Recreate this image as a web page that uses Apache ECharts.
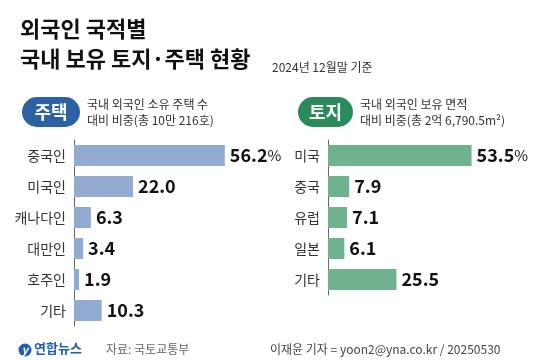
<!DOCTYPE html>
<html><head><meta charset="utf-8">
<script src="https://cdn.jsdelivr.net/npm/echarts@6/dist/echarts.min.js"></script>
<style>html,body{margin:0;padding:0;background:#fff}#c{width:537px;height:360px}</style>
</head><body><div id="c"></div>
<script>
const houseCats = ['중국인','미국인','캐나다인','대만인','호주인','기타'];
const houseVals = [56.2, 22.0, 6.3, 3.4, 1.9, 10.3];
const landCats = ['미국','중국','유럽','일본','기타'];
const landVals = [53.5, 7.9, 7.1, 6.1, 25.5];

const F = '"Noto Sans CJK KR","Noto Sans",sans-serif';
const chart = echarts.init(document.getElementById('c'));

function labelFmt(p){
  const v = p.value.toFixed(1);
  return p.dataIndex === 0 ? '{v|' + v + '}{p|%}' : '{v|' + v + '}';
}
const labelRich = {
  v:{fontFamily:F,fontSize:18,fontWeight:'bold',color:'#111'},
  p:{fontFamily:F,fontSize:15,color:'#111'}
};

chart.setOption({
  animation:false,
  grid:[
    {left:74,top:140,width:161,height:186},
    {left:328,top:140,width:161,height:155}
  ],
  xAxis:[
    {gridIndex:0,type:'value',min:0,max:60,show:false},
    {gridIndex:1,type:'value',min:0,max:60,show:false}
  ],
  yAxis:[
    {gridIndex:0,type:'category',data:houseCats,inverse:true,
     axisLine:{lineStyle:{color:'#666',width:1}},axisTick:{show:false},
     axisLabel:{fontFamily:F,fontSize:14,color:'#333',margin:8}},
    {gridIndex:1,type:'category',data:landCats,inverse:true,
     axisLine:{lineStyle:{color:'#666',width:1}},axisTick:{show:false},
     axisLabel:{fontFamily:F,fontSize:14,color:'#333',margin:8}}
  ],
  series:[
    {type:'bar',xAxisIndex:0,yAxisIndex:0,data:houseVals,barWidth:21,
     itemStyle:{color:'#93abd0'},
     label:{show:true,position:'right',distance:5,formatter:labelFmt,rich:labelRich}},
    {type:'bar',xAxisIndex:1,yAxisIndex:1,data:landVals,barWidth:21,
     itemStyle:{color:'#6eb28f'},
     label:{show:true,position:'right',distance:5,formatter:labelFmt,rich:labelRich}}
  ],
  graphic:[
    {type:'text',left:20,top:18,style:{text:'외국인 국적별',font:'bold 22px '+F,fill:'#111'}},
    {type:'text',left:20,top:48,style:{text:'국내 보유 토지·주택 현황',font:'bold 22px '+F,fill:'#111'}},
    {type:'text',left:272,top:61,style:{text:'2024년 12월말 기준',font:'12px '+F,fill:'#333'}},
    {type:'rect',shape:{x:22,y:97,width:58,height:30,r:15},style:{fill:'#2c62a4'}},
    {type:'text',x:51,y:112,style:{text:'주택',font:'bold 18px '+F,fill:'#fff',align:'center',verticalAlign:'middle'}},
    {type:'text',left:87,top:98,style:{text:'국내 외국인 소유 주택 수',font:'12px '+F,fill:'#333'}},
    {type:'text',left:87,top:114,style:{text:'대비 비중(총 10만 216호)',font:'12px '+F,fill:'#333'}},
    {type:'rect',shape:{x:298,y:97,width:55,height:30,r:15},style:{fill:'#2a8a5c'}},
    {type:'text',x:325.5,y:112,style:{text:'토지',font:'bold 18px '+F,fill:'#fff',align:'center',verticalAlign:'middle'}},
    {type:'text',left:360,top:98,style:{text:'국내 외국인 보유 면적',font:'12px '+F,fill:'#333'}},
    {type:'text',left:360,top:114,style:{text:'대비 비중(총 2억 6,790.5m²)',font:'12px '+F,fill:'#333'}},
    {type:'circle',shape:{cx:25,cy:350,r:6.5},style:{fill:'#1f5fb5'}},
    {type:'text',x:25,y:350,style:{text:'y',font:'italic bold 11px '+F,fill:'#fff',align:'center',verticalAlign:'middle'}},
    {type:'text',left:34,top:342,style:{text:'연합뉴스',font:'bold 13px '+F,fill:'#1f5fb5'}},
    {type:'text',left:106,top:343,style:{text:'자료: 국토교통부',font:'12px '+F,fill:'#666'}},
    {type:'text',left:270,top:343,style:{text:'이재윤 기자 = yoon2@yna.co.kr / 20250530',font:'12px '+F,fill:'#444'}}
  ]
});
</script></body></html>
